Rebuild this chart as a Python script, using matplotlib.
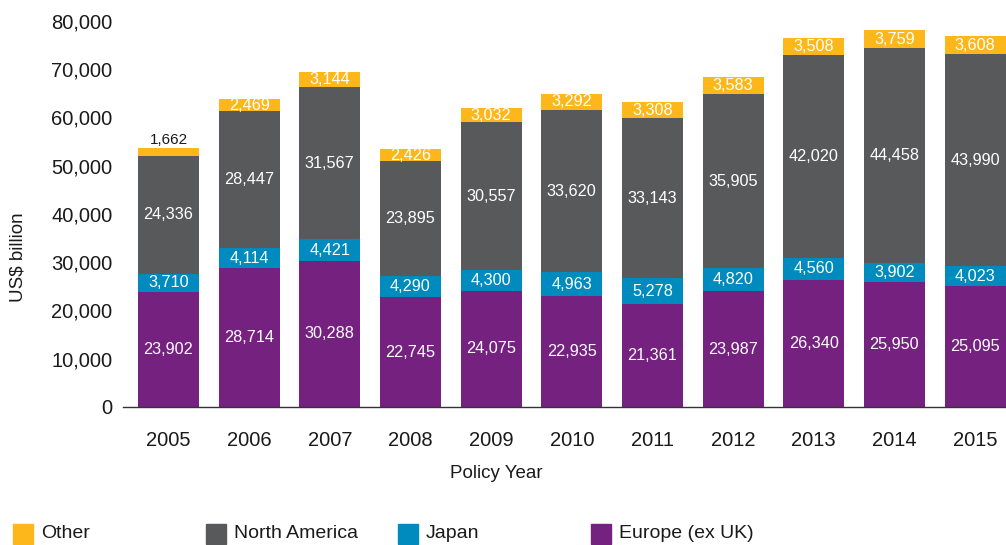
import matplotlib
matplotlib.use("Agg")
import matplotlib.pyplot as plt
from matplotlib.patches import Rectangle
from matplotlib.ticker import FuncFormatter
import numpy as np

plt.rcParams['font.family'] = ['Liberation Sans', 'DejaVu Sans']

years = ['2005', '2006', '2007', '2008', '2009', '2010',
         '2011', '2012', '2013', '2014', '2015']
europe = [23902, 28714, 30288, 22745, 24075, 22935, 21361, 23987, 26340, 25950, 25095]
japan = [3710, 4114, 4421, 4290, 4300, 4963, 5278, 4820, 4560, 3902, 4023]
north_america = [24336, 28447, 31567, 23895, 30557, 33620, 33143, 35905, 42020, 44458, 43990]
other = [1662, 2469, 3144, 2426, 3032, 3292, 3308, 3583, 3508, 3759, 3608]

series_names = ['Europe (ex UK)', 'Japan', 'North America', 'Other']
series_colors = ['#74217F', '#008BBF', '#58595B', '#FDB71B']
legend_order = ['Other', 'North America', 'Japan', 'Europe (ex UK)']

W, H = 1006, 545
fig = plt.figure(figsize=(W / 100, H / 100), dpi=100)
ax = fig.add_axes([123 / W, (H - 407) / H, 883 / W, 386.4 / H])

x = np.arange(len(years))
width = 0.757
stack = [europe, japan, north_america, other]
bottom = np.zeros(len(years))
for name, vals, col in zip(series_names, stack, series_colors):
    vals = np.array(vals, dtype=float)
    ax.bar(x, vals, width, bottom=bottom, color=col, label=name, zorder=2)
    for i, (v, b) in enumerate(zip(vals, bottom)):
        txt = f"{int(v):,}"
        if name == 'Other' and v < 2000:
            ax.text(x[i], b + v + 300, txt, ha='center', va='bottom',
                    color='#1a1a1a', fontsize=11)
        else:
            ax.text(x[i], b + v / 2, txt, ha='center', va='center',
                    color='white', fontsize=11.7)
    bottom = bottom + vals

ax.set_xlim(-0.564, 10.384)
ax.set_ylim(0, 80000)
ax.set_yticks(np.arange(0, 80001, 10000))
ax.yaxis.set_major_formatter(FuncFormatter(lambda v, p: f"{int(v):,}"))
ax.set_xticks(x)
ax.set_xticklabels(years)
ax.tick_params(axis='y', length=0, pad=7.5, labelsize=14.5, labelcolor='#1a1a1a')
ax.tick_params(axis='x', length=0, pad=17.5, labelsize=14.5, labelcolor='#1a1a1a')
for s in ['top', 'right', 'left']:
    ax.spines[s].set_visible(False)
ax.spines['bottom'].set_color('#333333')
ax.spines['bottom'].set_linewidth(1.0)
ax.spines['bottom'].set_zorder(3)

fig.text(496 / W, 1 - 474 / H, 'Policy Year', ha='center', va='center',
         fontsize=13.5, color='#1a1a1a')
fig.text(18 / W, 1 - 257 / H, 'US$ billion', ha='center', va='center',
         rotation=90, fontsize=13.5, color='#1a1a1a')

# legend keys along the bottom
color_of = dict(zip(series_names, series_colors))
key_x = [13, 206, 398, 591]
for name, kx in zip(legend_order, key_x):
    fig.add_artist(Rectangle((kx / W, 1 - 544 / H), 20 / W, 20 / H,
                             transform=fig.transFigure, color=color_of[name]))
    fig.text((kx + 28) / W, 1 - 534 / H, name, ha='left', va='center',
             fontsize=14, color='#1a1a1a')

fig.savefig('out.png', dpi=100)
